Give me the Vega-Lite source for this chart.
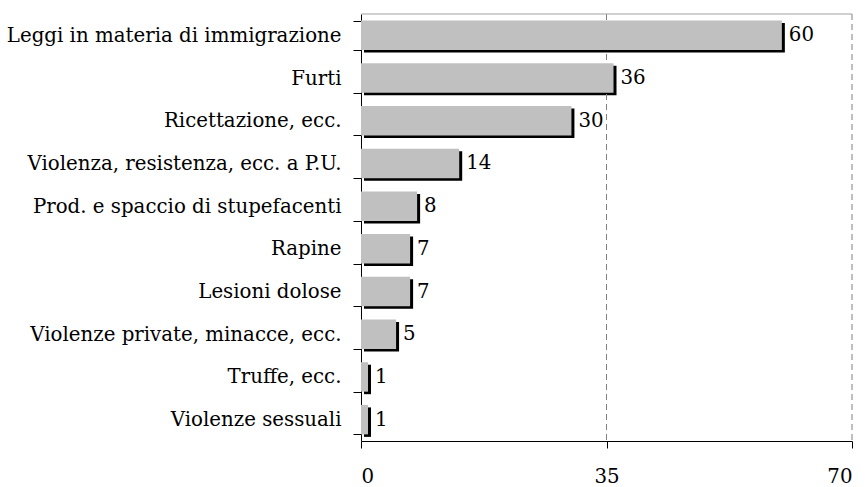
{
  "$schema": "https://vega.github.io/schema/vega-lite/v6.json",
  "autosize": "none",
  "width": 491,
  "height": 427,
  "padding": {"left": 361, "top": 14, "right": 15, "bottom": 46},
  "background": "white",
  "config": {
    "view": {"stroke": null}
  },
  "data": {
    "values": [
      {"reato": "Leggi in materia di immigrazione", "valore": 60},
      {"reato": "Furti", "valore": 36},
      {"reato": "Ricettazione, ecc.", "valore": 30},
      {"reato": "Violenza, resistenza, ecc. a P.U.", "valore": 14},
      {"reato": "Prod. e spaccio di stupefacenti", "valore": 8},
      {"reato": "Rapine", "valore": 7},
      {"reato": "Lesioni dolose", "valore": 7},
      {"reato": "Violenze private, minacce, ecc.", "valore": 5},
      {"reato": "Truffe, ecc.", "valore": 1},
      {"reato": "Violenze sessuali", "valore": 1}
    ]
  },
  "encoding": {
    "y": {
      "field": "reato",
      "type": "nominal",
      "sort": null,
      "title": null,
      "scale": {"paddingInner": 0.31, "paddingOuter": 0.155},
      "axis": {
        "labelFont": "DejaVu Serif",
        "labelFontSize": 19.8,
        "labelColor": "black",
        "tickBand": "extent",
        "tickSize": 8,
        "tickColor": "black",
        "domainColor": "black",
        "labelPadding": 12,
        "labelLimit": 400
      }
    }
  },
  "layer": [
    {
      "mark": {"type": "bar", "color": "black", "xOffset": 3, "yOffset": 2.5},
      "encoding": {
        "x": {
          "field": "valore",
          "type": "quantitative",
          "scale": {"domain": [0, 70], "nice": false},
          "title": null,
          "axis": {
            "values": [0, 35, 70],
            "labelFont": "DejaVu Serif",
            "labelFontSize": 19.8,
            "labelColor": "black",
            "labelPadding": 18,
            "tickSize": 7,
            "tickColor": "black",
            "domainColor": "black",
            "grid": false
          }
        }
      }
    },
    {
      "mark": {"type": "rule", "color": "#808080", "strokeDash": [6, 4], "strokeWidth": 1},
      "data": {"values": [{"g": 35}, {"g": 70}]},
      "encoding": {"x": {"field": "g", "type": "quantitative"}, "y": {"value": 0}, "y2": {"value": 427}}
    },
    {
      "mark": {"type": "rule", "color": "#a0a0a0", "strokeWidth": 1},
      "data": {"values": [{"a": 0, "b": 70}]},
      "encoding": {"x": {"field": "a", "type": "quantitative"}, "x2": {"field": "b"}, "y": {"value": 0}}
    },
    {
      "mark": {"type": "bar", "color": "#c0c0c0"},
      "encoding": {"x": {"field": "valore", "type": "quantitative"}}
    },
    {
      "mark": {"type": "text", "align": "left", "baseline": "middle", "dx": 7, "font": "DejaVu Serif", "fontSize": 19.8, "color": "black"},
      "encoding": {
        "x": {"field": "valore", "type": "quantitative"},
        "text": {"field": "valore", "type": "quantitative"}
      }
    }
  ]
}
